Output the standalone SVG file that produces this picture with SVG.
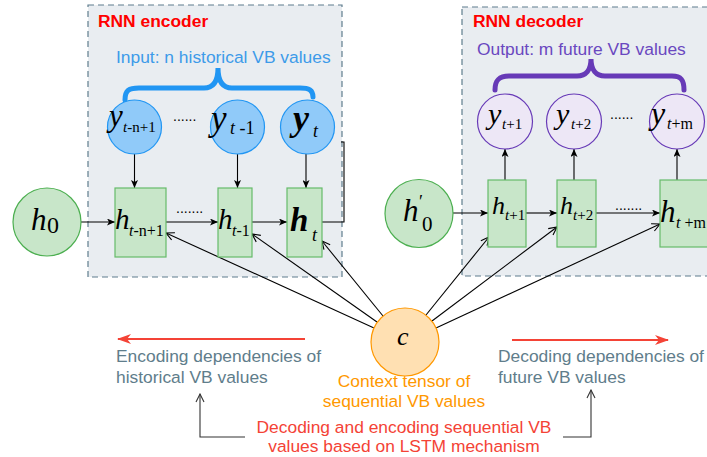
<svg xmlns="http://www.w3.org/2000/svg" width="707" height="457" viewBox="0 0 707 457">
<style>
.box{fill:#e9edf1;stroke:#5f7d8e;stroke-width:1.2;stroke-dasharray:6,4}
.blue{fill:#90caf9;stroke:#2196f3;stroke-width:1.2}
.purp{fill:#ede7f6;stroke:#673ab7;stroke-width:1.2}
.grn{fill:#c8e6c9;stroke:#4caf50;stroke-width:1.2}
.rect{fill:#c8e6c9;stroke:#66bb6a;stroke-width:1.2}
.ctx{fill:#ffe0b2;stroke:#ff9800;stroke-width:1.2}
.m{font-family:"Liberation Serif","Times New Roman",serif;font-style:italic;fill:#000}
.s{font-family:"Liberation Serif","Times New Roman",serif;fill:#000}
.sans{font-family:"Liberation Sans",Arial,sans-serif;font-size:17.4px}
.ln{stroke:#000;stroke-width:1.1;fill:none}
.dots{font-family:"Liberation Sans",Arial,sans-serif;font-size:14px;fill:#000}
</style>
<defs>
<marker id="fa" markerUnits="userSpaceOnUse" markerWidth="8" markerHeight="7" refX="8" refY="3.5" orient="auto"><path d="M0,0 L8,3.5 L0,7 L2,3.5 z" fill="#000"/></marker>
<marker id="oa" markerUnits="userSpaceOnUse" markerWidth="10" markerHeight="10" refX="9" refY="5" orient="auto"><path d="M1,1 L9,5 L1,9" fill="none" stroke="#000" stroke-width="1.1"/></marker>
<marker id="ga" markerUnits="userSpaceOnUse" markerWidth="10" markerHeight="10" refX="9" refY="5" orient="auto"><path d="M1,1 L9,5 L1,9" fill="none" stroke="#333" stroke-width="1.1"/></marker>
<marker id="ra" markerUnits="userSpaceOnUse" markerWidth="14" markerHeight="10" refX="13" refY="5" orient="auto"><path d="M0,0 L14,5 L0,10 L4,5 z" fill="#f44336"/></marker>
</defs>

<g id="encoder-box">
<rect class="box" x="88" y="5" width="254" height="272"/>
<text class="sans" x="98" y="27" font-weight="bold" fill="#ff0000">RNN encoder</text>
<text class="sans" x="116" y="63" fill="#3d9be9">Input: n historical VB values</text>
<path d="M125,100 C125,90 129,88 139,88 L204,88 C213,88 218,82 218,68 C218,82 223,88 232,88 L300,88 C309,88 313,90 313,97" fill="none" stroke="#2196f3" stroke-width="5" stroke-linecap="round"/>
</g>
<g id="decoder-box">
<rect class="box" x="462" y="7" width="260" height="269"/>
<text class="sans" x="473" y="27" font-weight="bold" fill="#ff0000">RNN decoder</text>
<text class="sans" x="477" y="55" fill="#6a48c0">Output: m future VB values</text>
<path d="M495,90 C495,80 499,76 509,76 L577,76 C586,76 591,70 591,59 C591,70 596,76 605,76 L672,76 C681,76 684,80 684,90" fill="none" stroke="#673ab7" stroke-width="5" stroke-linecap="round"/>
</g>

<g id="connectors">
<line class="ln" x1="134.5" y1="154" x2="134.5" y2="188" marker-end="url(#fa)"/>
<line class="ln" x1="237.5" y1="154" x2="237.5" y2="188" marker-end="url(#fa)"/>
<line class="ln" x1="306" y1="154" x2="306" y2="188" marker-end="url(#fa)"/>
<line class="ln" x1="81" y1="222" x2="115" y2="222" marker-end="url(#fa)"/>
<line class="ln" x1="166" y1="222" x2="218" y2="222" marker-end="url(#fa)"/>
<line class="ln" x1="252" y1="222" x2="287" y2="222" marker-end="url(#fa)"/>
<path class="ln" d="M322,222 L344,222 L344,142 L341,142"/>
<line class="ln" x1="453" y1="213" x2="488" y2="213" marker-end="url(#fa)"/>
<line class="ln" x1="526" y1="213" x2="557" y2="213" marker-end="url(#fa)"/>
<line class="ln" x1="596" y1="213" x2="660" y2="213" marker-end="url(#fa)"/>
<line class="ln" stroke="#444" x1="505" y1="180" x2="505" y2="149" marker-end="url(#fa)"/>
<line class="ln" stroke="#444" x1="574" y1="180" x2="574" y2="149" marker-end="url(#fa)"/>
<line class="ln" stroke="#444" x1="677" y1="180" x2="677" y2="149" marker-end="url(#fa)"/>
<line class="ln" x1="374" y1="328" x2="166" y2="233" marker-end="url(#oa)"/>
<line class="ln" x1="377" y1="322" x2="252" y2="234" marker-end="url(#oa)"/>
<line class="ln" x1="383" y1="316" x2="322" y2="241" marker-end="url(#oa)"/>
<line class="ln" x1="426" y1="315" x2="489" y2="237" marker-end="url(#oa)"/>
<line class="ln" x1="432" y1="321" x2="557" y2="227" marker-end="url(#oa)"/>
<line class="ln" x1="436" y1="328" x2="660" y2="224" marker-end="url(#oa)"/>
<line x1="305" y1="339" x2="118" y2="339" stroke="#f44336" stroke-width="2" marker-end="url(#ra)"/>
<line x1="512" y1="340" x2="668" y2="340" stroke="#f44336" stroke-width="2" marker-end="url(#ra)"/>
<path d="M245,437 L200,437 L200,394" fill="none" stroke="#333" stroke-width="1.1" marker-end="url(#ga)"/>
<path d="M563,437 L591,437 L591,390" fill="none" stroke="#333" stroke-width="1.1" marker-end="url(#ga)"/>
</g>

<g id="dots">
<text class="dots" x="173" y="121">......</text>
<text class="dots" x="176" y="213">.......</text>
<text class="dots" x="610" y="119">......</text>
<text class="dots" x="615" y="210">.......</text>
</g>

<g id="y-t-n1"><circle class="blue" cx="134.5" cy="127" r="27"/>
<text class="m" x="109" y="126" font-size="31">y</text><text class="s" x="123" y="132" font-size="15"><tspan font-style="italic">t</tspan>-n+1</text></g>
<g id="y-t-1"><circle class="blue" cx="237.5" cy="127" r="27"/>
<text class="m" x="211" y="130" font-size="35">y</text><text class="s" x="230" y="134" font-size="18"><tspan font-style="italic">t</tspan> -1</text></g>
<g id="y-t"><circle class="blue" cx="307.5" cy="127" r="27"/>
<text class="m" x="293" y="130" font-size="36" font-weight="bold">y</text><text class="m" x="313" y="137" font-size="18">t</text></g>

<g id="h-t-n1"><rect class="rect" x="115" y="188" width="51" height="69"/>
<text class="m" x="115" y="229" font-size="29">h</text><text class="s" x="129" y="236" font-size="16"><tspan font-style="italic">t</tspan>-n+1</text></g>
<g id="h-t-1"><rect class="rect" x="218" y="188" width="34" height="69"/>
<text class="m" x="218" y="229" font-size="29">h</text><text class="s" x="232" y="236" font-size="16"><tspan font-style="italic">t</tspan>-1</text></g>
<g id="h-t"><rect class="rect" x="287" y="188" width="35" height="69"/>
<text class="m" x="290" y="231" font-size="33" font-weight="bold">h</text><text class="m" x="312" y="241" font-size="18">t</text></g>

<g id="h0"><circle class="grn" cx="47" cy="222" r="34"/>
<text class="m" x="31" y="230" font-size="31">h</text><text class="s" x="47" y="233" font-size="24">0</text></g>
<g id="h0p"><circle class="grn" cx="419" cy="213.5" r="34"/>
<text class="m" x="403" y="221" font-size="31">h</text><text class="s" x="419" y="208" font-size="18">′</text><text class="s" x="422" y="231" font-size="21">0</text></g>

<g id="h-t1"><rect class="rect" x="488" y="180" width="38" height="67"/>
<text class="m" x="492" y="214" font-size="26">h</text><text class="s" x="505" y="220" font-size="15"><tspan font-style="italic">t</tspan>+1</text></g>
<g id="h-t2"><rect class="rect" x="557" y="180" width="39" height="67"/>
<text class="m" x="560" y="214" font-size="26">h</text><text class="s" x="573" y="220" font-size="15"><tspan font-style="italic">t</tspan>+2</text></g>
<g id="h-tm"><rect class="rect" x="660" y="180" width="50" height="67"/>
<text class="m" x="660" y="222" font-size="31">h</text><text class="s" x="676" y="228" font-size="16"><tspan font-style="italic">t</tspan> +m</text></g>

<g id="y-t1"><circle class="purp" cx="505" cy="121.5" r="27.5"/>
<text class="m" x="488" y="124" font-size="30">y</text><text class="s" x="502" y="129" font-size="15"><tspan font-style="italic">t</tspan>+1</text></g>
<g id="y-t2"><circle class="purp" cx="574" cy="121.5" r="27.5"/>
<text class="m" x="556" y="124" font-size="30">y</text><text class="s" x="571" y="129" font-size="15"><tspan font-style="italic">t</tspan>+2</text></g>
<g id="y-tm"><circle class="purp" cx="677" cy="121.5" r="27.5"/>
<text class="m" x="651" y="124" font-size="32">y</text><text class="s" x="667" y="129" font-size="16"><tspan font-style="italic">t</tspan>+m</text></g>

<g id="context"><circle class="ctx" cx="405" cy="342" r="34"/>
<text class="m" x="397" y="345" font-size="26">c</text>
<text class="sans" x="404" y="387" fill="#ff9800" text-anchor="middle">Context tensor of</text>
<text class="sans" x="404" y="407" fill="#ff9800" text-anchor="middle">sequential VB values</text></g>

<g id="enc-dep"><text class="sans" x="116" y="362" fill="#607d8b">Encoding dependencies of</text>
<text class="sans" x="116" y="383" fill="#607d8b">historical VB values</text></g>
<g id="dec-dep"><text class="sans" x="498" y="362" fill="#607d8b">Decoding dependencies of</text>
<text class="sans" x="498" y="383" fill="#607d8b">future VB values</text></g>
<g id="lstm"><text class="sans" x="404" y="433" fill="#f44336" text-anchor="middle">Decoding and encoding sequential VB</text>
<text class="sans" x="404" y="452" fill="#f44336" text-anchor="middle">values based on LSTM mechanism</text></g>
</svg>
